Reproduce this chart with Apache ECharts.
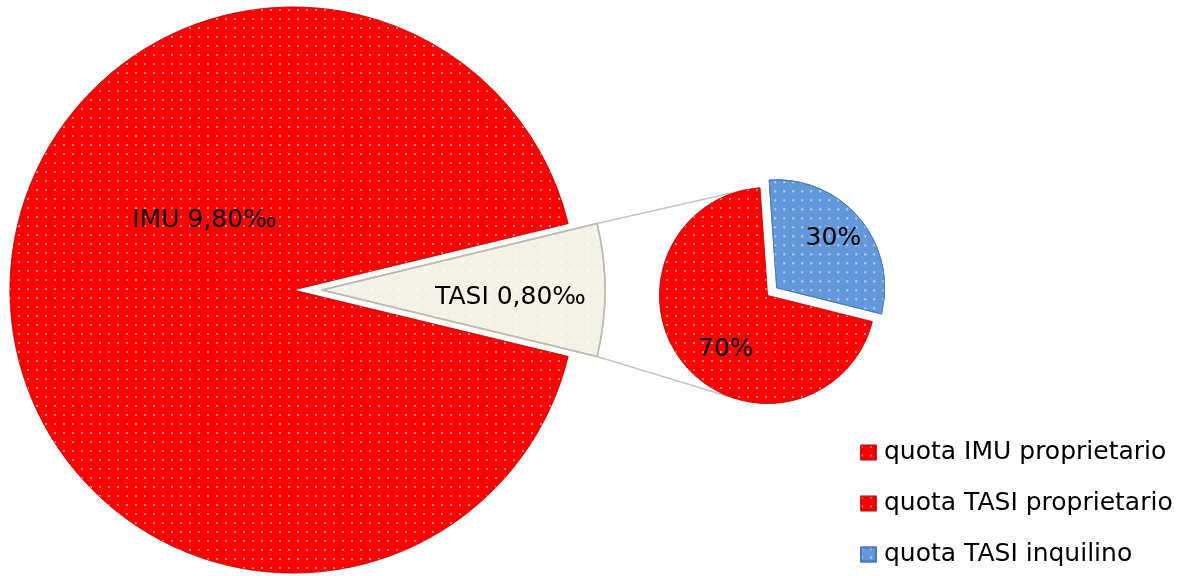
<!DOCTYPE html>
<html>
<head>
<meta charset="utf-8">
<script src="https://cdn.jsdelivr.net/npm/echarts@6/dist/echarts.min.js"></script>
<style>
  html, body { margin: 0; padding: 0; background: #fff; }
  #chart { width: 1197px; height: 576px; }
</style>
</head>
<body>
<div id="chart"></div>
<script>
// ---- data ----
const legendNames = ['quota IMU proprietario', 'quota TASI proprietario', 'quota TASI inquilino'];
const mainNames = ['TASI', 'quota IMU proprietario'];
const mainValues = [0.8, 9.8];            // per mille
const mainLabels = ['TASI 0,80‰', 'IMU 9,80‰'];
const secNames = ['quota TASI inquilino', 'quota TASI proprietario'];
const secValues = [30, 70];               // percent of TASI
const secLabels = ['30%', '70%'];

// ---- layout / style ----
const mainCenter = [293, 290], mainR = 283, mainOffset = 29;
const secCenter = [767.5, 295.5], secR = 108, secOffset = 12, secStart = 94;
const mainLabelShift = [[44, 7], [56, -70]];
const secLabelShift = [[13, -13], [2, 17]];
const RED = '#FF0000', BLUE = '#6399DB', CREAM = '#F4F2E5';
const FONT = 'DejaVu Sans';

const dots = {
  symbol: 'rect', symbolSize: 1,
  dashArrayX: [2, 7], dashArrayY: [2, 7],
  color: 'rgba(255,255,255,0.55)'
};

const tasiFrac = mainValues[0] / (mainValues[0] + mainValues[1]);
const halfA = tasiFrac * 180; // degrees
const mainStart = halfA;

// connector lines computed from geometry
const rad = Math.PI / 180;
const ox = mainCenter[0] + mainOffset, oy = mainCenter[1];
const topCorner = [ox + mainR * Math.cos(halfA * rad), oy - mainR * Math.sin(halfA * rad)];
const botCorner = [ox + mainR * Math.cos(halfA * rad), oy + mainR * Math.sin(halfA * rad)];
function tangent(p, upper) {
  const dx = p[0] - secCenter[0], dy = p[1] - secCenter[1];
  const d = Math.hypot(dx, dy);
  const base = Math.atan2(dy, dx);
  const delta = Math.acos(secR / d);
  const c = [base + delta, base - delta].map(t => [secCenter[0] + secR * Math.cos(t), secCenter[1] + secR * Math.sin(t)]);
  c.sort((a, b) => a[1] - b[1]);
  return upper ? c[0] : c[1];
}
const topT = tangent(topCorner, true), botT = tangent(botCorner, false);

const chart = echarts.init(document.getElementById('chart'));
chart.setOption({
  animation: false,
  backgroundColor: '#fff',
  legend: {
    data: legendNames,
    orient: 'vertical',
    left: 860, top: 440, height: 200, padding: 0,
    itemWidth: 15, itemHeight: 14, itemGap: 26,
    icon: 'rect',
    selectedMode: false,
    textStyle: { fontFamily: FONT, fontSize: 25, color: '#000', lineHeight: 24, padding: [0, 0, 0, 3] }
  },
  graphic: [
    { type: 'line', z: 0, shape: { x1: topCorner[0], y1: topCorner[1], x2: topT[0], y2: topT[1] }, style: { stroke: '#C4C4C4', lineWidth: 1.5 } },
    { type: 'line', z: 0, shape: { x1: botCorner[0], y1: botCorner[1], x2: botT[0], y2: botT[1] }, style: { stroke: '#C4C4C4', lineWidth: 1.5 } }
  ],
  series: [
    {
      type: 'pie', center: mainCenter, radius: mainR,
      startAngle: mainStart, clockwise: true,
      selectedMode: 'single', selectedOffset: mainOffset,
      avoidLabelOverlap: false,
      emphasis: { disabled: true },
      label: {
        show: true, position: 'inside', fontFamily: FONT, fontSize: 25, color: '#000',
        formatter: p => mainLabels[p.dataIndex]
      },
      labelLine: { show: false },
      labelLayout: p => ({ dx: mainLabelShift[p.dataIndex][0], dy: mainLabelShift[p.dataIndex][1] }),
      data: mainValues.map((v, i) => ({
        name: mainNames[i], value: v, selected: i === 0,
        itemStyle: i === 0
          ? { color: CREAM, borderColor: '#BDBBAE', borderWidth: 1.5, decal: Object.assign({}, dots, { color: 'rgba(255,255,255,0.6)' }) }
          : { color: RED, borderColor: 'rgba(190,0,0,0.6)', borderWidth: 1, decal: dots }
      }))
    },
    {
      type: 'pie', center: secCenter, radius: secR,
      startAngle: secStart, clockwise: true,
      selectedMode: 'single', selectedOffset: secOffset,
      avoidLabelOverlap: false,
      emphasis: { disabled: true },
      label: {
        show: true, position: 'inside', fontFamily: FONT, fontSize: 25, color: '#000',
        formatter: p => secLabels[p.dataIndex]
      },
      labelLine: { show: false },
      labelLayout: p => ({ dx: secLabelShift[p.dataIndex][0], dy: secLabelShift[p.dataIndex][1] }),
      data: secValues.map((v, i) => ({
        name: secNames[i], value: v, selected: i === 0,
        itemStyle: i === 0
          ? { color: BLUE, borderColor: '#4A7DBE', borderWidth: 1, decal: dots }
          : { color: RED, borderColor: 'rgba(190,0,0,0.6)', borderWidth: 1, decal: dots }
      }))
    }
  ]
});
</script>
</body>
</html>
